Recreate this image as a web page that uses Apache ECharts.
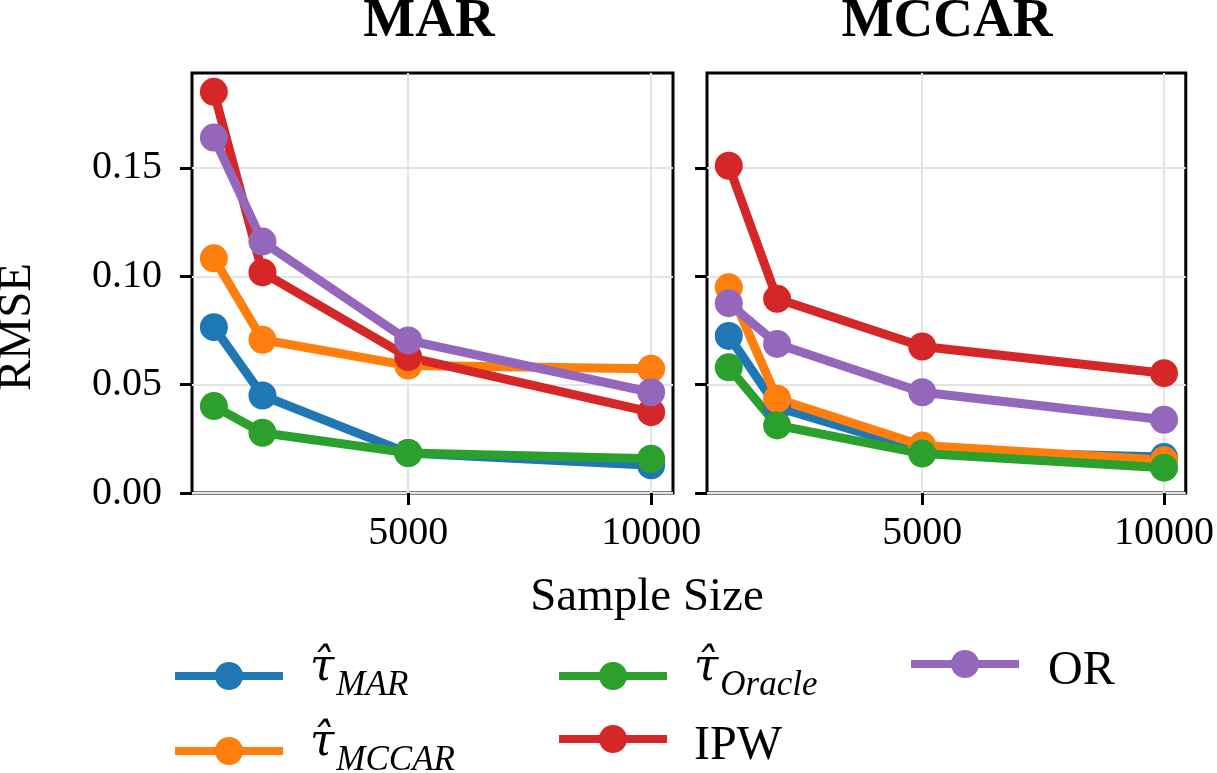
<!DOCTYPE html>
<html>
<head>
    <meta charset="utf-8">
    <script src="https://cdn.jsdelivr.net/npm/echarts@6/dist/echarts.min.js"></script>
    <style>
        html, body { margin: 0; padding: 0; background: #fff; }
        #chart { width: 1217px; height: 773px; }
    </style>
</head>
<body>
    <div id="chart"></div>
    <script>
        // sample sizes on the x axis
        let sampleSizes = [1000, 2000, 5000, 10000];

        // MAR panel
        let marTauMar = [0.0765, 0.0450, 0.0184, 0.0128];
        let marTauMccar = [0.1083, 0.0707, 0.0588, 0.0573];
        let marTauOracle = [0.0401, 0.0278, 0.0185, 0.0158];
        let marIpw = [0.1851, 0.1018, 0.0627, 0.0373];
        let marOr = [0.1640, 0.1160, 0.0704, 0.0465];

        // MCCAR panel
        let mccarTauMar = [0.0725, 0.0396, 0.0195, 0.0166];
        let mccarTauMccar = [0.0949, 0.0435, 0.0219, 0.0151];
        let mccarTauOracle = [0.0580, 0.0312, 0.0182, 0.0117];
        let mccarIpw = [0.1510, 0.0896, 0.0676, 0.0553];
        let mccarOr = [0.0876, 0.0688, 0.0465, 0.0338];

        let panelTitles = ['MAR', 'MCCAR'];
        let methodNames = ['tauMAR', 'tauMCCAR', 'tauOracle', 'IPW', 'OR'];
        let colors = ['#1f77b4', '#ff7f0e', '#2ca02c', '#d62728', '#9467bd'];
        let xTicks = [5000, 10000];
        let yTicks = [0, 0.05, 0.10, 0.15];

        let panels = [
            [marTauMar, marTauMccar, marTauOracle, marIpw, marOr],
            [mccarTauMar, mccarTauMccar, mccarTauOracle, mccarIpw, mccarOr]
        ];

        const serif = '"Liberation Serif", "Times New Roman", serif';

        function pairs(vals) {
            return sampleSizes.map((x, i) => [x, vals[i]]);
        }

        let grids = [
            { left: 192, right: 544, top: 73, bottom: 280 },
            { left: 707, right: 29, top: 73, bottom: 280 }
        ].map(g => Object.assign(g, {
            show: true, borderColor: '#000', borderWidth: 3, backgroundColor: 'transparent'
        }));

        let xAxes = [0, 1].map(i => ({
            type: 'value',
            gridIndex: i,
            min: 550,
            max: 10450,
            axisLine: { show: false },
            axisTick: { show: true, length: 12, customValues: xTicks, lineStyle: { color: '#000', width: 3 } },
            axisLabel: {
                customValues: xTicks,
                margin: 20,
                color: '#000',
                fontFamily: serif,
                fontSize: 40,
                formatter: v => String(v)
            },
            splitLine: { show: true, lineStyle: { color: '#e4e4e4', width: 2 } }
        }));

        let yAxes = [0, 1].map(i => ({
            type: 'value',
            gridIndex: i,
            min: 0,
            max: 0.1938,
            axisLine: { show: false },
            axisTick: { show: true, length: 12, customValues: yTicks, lineStyle: { color: '#000', width: 3 } },
            axisLabel: {
                show: i === 0,
                customValues: yTicks,
                margin: 30,
                color: '#000',
                fontFamily: serif,
                fontSize: 40,
                formatter: v => v.toFixed(2)
            },
            splitLine: { show: true, lineStyle: { color: '#e4e4e4', width: 2 } }
        }));

        let series = [];
        panels.forEach((panel, p) => {
            panel.forEach((vals, k) => {
                series.push({
                    name: methodNames[k],
                    type: 'line',
                    xAxisIndex: p,
                    yAxisIndex: p,
                    data: pairs(vals),
                    symbol: 'circle',
                    symbolSize: 28,
                    showAllSymbol: true,
                    lineStyle: { color: colors[k], width: 9 },
                    itemStyle: { color: colors[k] },
                    emphasis: { disabled: true },
                    animation: false
                });
            });
        });

        // legend labels: tau-hat with an italic subscript
        let legendText = {
            tauMAR: '{tau|τ\u0302}{sub|MAR}',
            tauMCCAR: '{tau|τ\u0302}{sub|MCCAR}',
            tauOracle: '{tau|τ\u0302}{sub|Oracle}',
            IPW: '{plain|IPW}',
            OR: '{plain|OR}'
        };
        let richStyles = {
            tau: { fontFamily: '"DejaVu Serif", serif', fontStyle: 'italic', fontSize: 44, lineHeight: 40, verticalAlign: 'bottom', padding: [0, 2, 12, 0], color: '#000' },
            sub: { fontFamily: serif, fontStyle: 'italic', fontSize: 35, lineHeight: 40, verticalAlign: 'bottom', color: '#000' },
            plain: { fontFamily: serif, fontSize: 48, lineHeight: 52, color: '#000' }
        };
        let legendSpots = [
            { name: 'tauMAR', left: 171, top: 647, pad: 22 },
            { name: 'tauMCCAR', left: 171, top: 722, pad: 22 },
            { name: 'tauOracle', left: 555, top: 647, pad: 22 },
            { name: 'IPW', left: 555, top: 722, pad: 22 },
            { name: 'OR', left: 907, top: 647, pad: 24 }
        ];
        let legends = legendSpots.map(s => ({
            data: [s.name],
            left: s.left,
            top: s.top,
            padding: 0,
            itemWidth: 108,
            itemHeight: 35,
            itemGap: 0,
            selectedMode: false,
            lineStyle: { width: 8 },
            formatter: n => legendText[n],
            textStyle: { padding: [14, 0, 0, s.pad], fontFamily: serif, rich: richStyles }
        }));

        let chart = echarts.init(document.getElementById('chart'), null, { renderer: 'canvas' });
        let option = {
            backgroundColor: '#fff',
            animation: false,
            grid: grids,
            xAxis: xAxes,
            yAxis: yAxes,
            legend: legends,
            series: series,
            graphic: [
                { type: 'text', x: 429, y: 22, style: { text: panelTitles[0], font: 'bold 55px "Liberation Serif"', fill: '#000', textAlign: 'center', textVerticalAlign: 'middle' } },
                { type: 'text', x: 947, y: 22, style: { text: panelTitles[1], font: 'bold 55px "Liberation Serif"', fill: '#000', textAlign: 'center', textVerticalAlign: 'middle' } },
                { type: 'text', x: 647, y: 598, style: { text: 'Sample Size', font: '47px "Liberation Serif"', fill: '#000', textAlign: 'center', textVerticalAlign: 'middle' } },
                { type: 'text', x: 18, y: 327, rotation: Math.PI / 2, style: { text: 'RMSE', font: '47px "Liberation Serif"', fill: '#000', textAlign: 'center', textVerticalAlign: 'middle' } }
            ]
        };
        chart.setOption(option);
    </script>
</body>
</html>
